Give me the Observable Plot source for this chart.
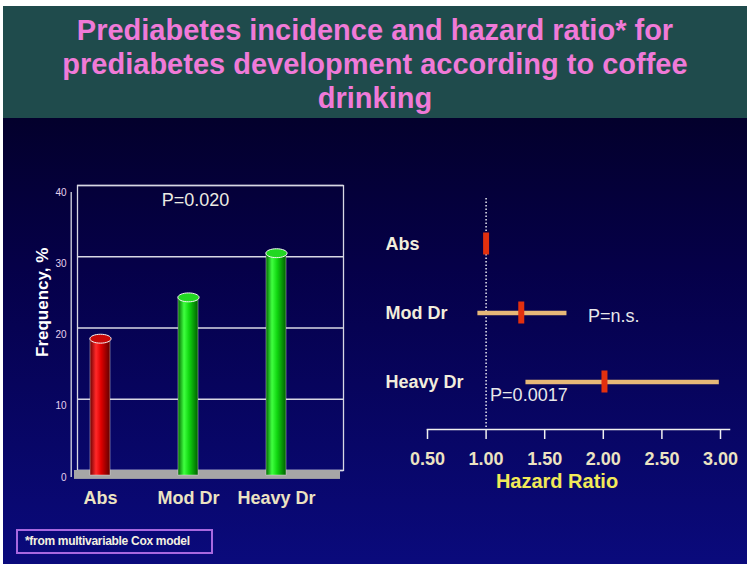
<!DOCTYPE html>
<html><head><meta charset="utf-8">
<script src="https://cdn.jsdelivr.net/npm/d3@7"></script>
<script src="https://cdn.jsdelivr.net/npm/@observablehq/plot@0.6"></script>
<style>
html,body{margin:0;padding:0;}
body{width:747px;height:564px;overflow:hidden;background:#fff;position:relative;font-family:"Liberation Sans",Arial,sans-serif;}
#slide{position:absolute;left:3px;top:6px;width:744px;height:558px;background:linear-gradient(#03002c 0px,#03002c 112px,#050048 260px,#0a0a7c 558px);}
#title{position:absolute;left:3px;top:6px;width:744px;height:112px;background:#1f4b4c;color:#f07ad8;font-weight:bold;font-size:29px;line-height:34px;text-align:center;padding-top:7px;box-sizing:border-box;}
#left{position:absolute;left:0;top:170px;}
#right{position:absolute;left:370px;top:150px;}
#note{position:absolute;left:16px;top:529px;width:197px;height:25px;border:2px solid #a868e0;box-sizing:border-box;color:#f4f0e0;font-weight:bold;font-size:12px;line-height:21px;padding-left:7px;letter-spacing:-0.3px;}
#defs{position:absolute;left:0;top:0;width:0;height:0;}
</style></head>
<body>
<div id="slide"></div>
<div id="title">Prediabetes incidence and hazard ratio* for<br>prediabetes development according to coffee<br>drinking</div>
<svg id="defs" width="0" height="0">
  <defs>
    <linearGradient id="cylRed" x1="0" x2="1" y1="0" y2="0">
      <stop offset="0" stop-color="#700000"/>
      <stop offset="0.3" stop-color="#ff2a2a"/>
      <stop offset="0.55" stop-color="#e00000"/>
      <stop offset="1" stop-color="#600000"/>
    </linearGradient>
    <linearGradient id="cylGreen" x1="0" x2="1" y1="0" y2="0">
      <stop offset="0" stop-color="#006800"/>
      <stop offset="0.3" stop-color="#40ff40"/>
      <stop offset="0.55" stop-color="#10d810"/>
      <stop offset="1" stop-color="#006000"/>
    </linearGradient>
  </defs>
</svg>
<div id="left"></div>
<div id="right"></div>
<div id="note">*from multivariable Cox model</div>
<script>
// ---- data: left chart (prediabetes incidence) ----
const groups = ["Abs", "Mod Dr", "Heavy Dr"];
const frequency = [19.2, 25.0, 31.2];
const freqTicks = [0, 10, 20, 30, 40];
const trendP = "P=0.020";

// ---- data: right chart (hazard ratio) ----
const hrRows = ["Abs", "Mod Dr", "Heavy Dr"];
const hr = [1.00, 1.30, 2.01];
const hrLow = [1.00, 0.93, 1.34];
const hrHigh = [1.00, 1.69, 2.99];
const hrTicks = [0.5, 1.0, 1.5, 2.0, 2.5, 3.0];
const hrP = ["", "P=n.s.", "P=0.0017"];

const bars = groups.map((g, i) => ({group: g, value: frequency[i]}));
const forest = hrRows.map((r, i) => ({name: r, hr: hr[i], lo: hrLow[i], hi: hrHigh[i], p: hrP[i]}));

const cylFill = {"Abs": "url(#cylRed)", "Mod Dr": "url(#cylGreen)", "Heavy Dr": "url(#cylGreen)"};
const topFill = {"Abs": "#c80808", "Mod Dr": "#22d822", "Heavy Dr": "#22d822"};

const ellipse = {
  draw(ctx, size) {
    const rx = Math.sqrt(size / Math.PI), ry = rx * 0.42, k = 0.5523;
    ctx.moveTo(rx, 0);
    ctx.bezierCurveTo(rx, k * ry, k * rx, ry, 0, ry);
    ctx.bezierCurveTo(-k * rx, ry, -rx, k * ry, -rx, 0);
    ctx.bezierCurveTo(-rx, -k * ry, -k * rx, -ry, 0, -ry);
    ctx.bezierCurveTo(k * rx, -ry, rx, -k * ry, rx, 0);
    ctx.closePath();
  }
};

const font = "Liberation Sans, Arial, sans-serif";
const ink = "#ece3c2";

const left = Plot.plot({
  width: 360, height: 340,
  marginLeft: 77, marginRight: 17, marginTop: 15, marginBottom: 40,
  style: {background: "transparent", color: "#fff", fontFamily: font, overflow: "visible"},
  x: {domain: groups, padding: 0},
  y: {domain: [0, 40]},
  color: {type: "identity"},
  marks: [
    Plot.ruleY(freqTicks, {stroke: "#d8d8e4", strokeWidth: 1.3}),
    Plot.frame({stroke: "#d8d8e4", strokeWidth: 1.3}),
    Plot.rect({length: 1}, {y1: 0, y2: -1.25, fill: "#a6a6a6", dx: -3}),
    Plot.ruleX([groups[0]], {y1: 0, y2: 40, dx: -51.3, dy: 7, stroke: "#d8d8e4", strokeWidth: 1.3}),
    Plot.axisY(freqTicks, {tickSize: 0, tickPadding: 4, dx: -7, dy: 7, fill: "#e6d2ee", fontSize: 10, label: null}),
    Plot.barY(bars, {x: "group", y: "value", fill: d => cylFill[d.group], insetLeft: 34, insetRight: 34, dx: -22, dy: 5, stroke: "#f0e8e8", strokeWidth: 0.6, strokeOpacity: 0.7}),
    Plot.dot(bars, {x: "group", y: "value", symbol: ellipse, r: 10.6, dx: -22, dy: 5, fill: d => topFill[d.group], stroke: "#f4f4f4", strokeWidth: 1}),
    Plot.text([trendP], {x: () => groups[1], y: () => 38, dx: -15, text: d => d, fill: "#ecebe2", fontSize: 18}),
    Plot.text(["Frequency, %"], {frameAnchor: "left", rotate: -90, dx: -35, dy: 29, text: d => d, fill: "#ffffff", fontSize: 17, fontWeight: "bold"}),
    Plot.axisX({tickSize: 0, tickPadding: 21, dx: -22, fill: ink, fontSize: 18, fontWeight: "bold", label: null})
  ]
});
document.getElementById("left").append(left);

const right = Plot.plot({
  width: 377, height: 360,
  marginLeft: 57, marginRight: 27, marginTop: 48, marginBottom: 81,
  style: {background: "transparent", color: "#fff", fontFamily: font, overflow: "visible"},
  x: {domain: [0.5, 3.0]},
  y: {domain: hrRows, range: [58.5, 265.5], padding: 0, axis: null},
  marks: [
    Plot.ruleX([1], {stroke: "#e8e8f0", strokeWidth: 1.5, strokeDasharray: "1.5,2"}),
    Plot.ruleY(forest, {y: "name", x1: "lo", x2: "hi", stroke: "#e6b878", strokeWidth: 4.5}),
    Plot.tickX(forest, {x: "hr", y: "name", stroke: "#e2300e", strokeWidth: 6, insetTop: 23.5, insetBottom: 23.5}),
    Plot.text(forest, {y: "name", text: "name", frameAnchor: "left", dx: -42, textAnchor: "start", fill: "#f2eedc", fontSize: 18, fontWeight: "bold"}),
    Plot.text(forest.filter(d => d.name === "Mod Dr"), {x: "hi", y: "name", text: "p", dx: 21, dy: 3, textAnchor: "start", fill: "#e8e8ea", fontSize: 18}),
    Plot.text(forest.filter(d => d.name === "Heavy Dr"), {x: () => 1, y: "name", text: "p", dx: 4, dy: 13, textAnchor: "start", fill: "#e8e8ea", fontSize: 18}),
    Plot.frame({anchor: "bottom", stroke: "#f0f0f0", strokeWidth: 1.5, insetRight: -9}),
    Plot.axisX(hrTicks, {tickSize: 10, tickPadding: 13, stroke: "#f0f0f0", strokeWidth: 1.5, fill: ink, fontSize: 18, fontWeight: "bold", tickFormat: d3.format(".2f"), label: null}),
    Plot.text(["Hazard Ratio"], {frameAnchor: "bottom", dx: -17, dy: 58, text: d => d, fill: "#f2ea58", fontSize: 20, fontWeight: "bold"})
  ]
});
document.getElementById("right").append(right);
</script>
</body></html>
